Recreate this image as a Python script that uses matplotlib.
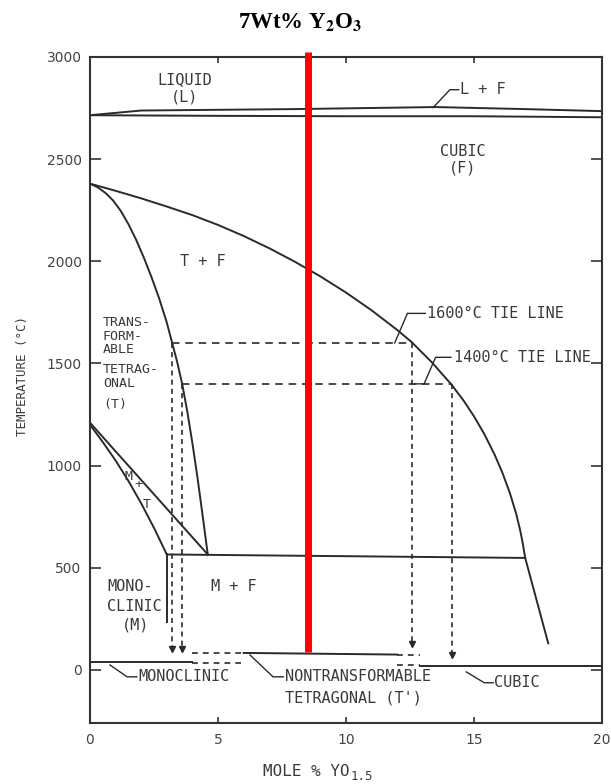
import matplotlib
matplotlib.use("Agg")
import matplotlib.pyplot as plt

plt.rcParams["mathtext.fontset"] = "stix"

# ---- phase boundaries (mole % YO1.5, deg C) --------------------------------
liq_x = [0, 2, 8, 13.5, 17, 20]
liq_T = [2715, 2738, 2745, 2755, 2745, 2735]
sol_x = [0, 5, 10, 15, 20]
sol_T = [2715, 2712, 2710, 2710, 2705]

tet_x = [0, 0.3, 0.6, 0.9, 1.2, 1.5, 1.8, 2.1, 2.4, 2.7, 3.0, 3.2, 3.4, 3.6,
         3.8, 4.0, 4.2, 4.4, 4.6]
tet_T = [2380, 2362, 2335, 2298, 2247, 2182, 2106, 2019, 1923, 1819, 1700, 1605,
         1510, 1400, 1265, 1110, 940, 755, 565]

cub_x = [0, 1, 2, 3, 4, 5, 6, 7, 8, 9, 10, 11, 12, 12.56, 13.35, 14.13, 14.6,
         15.0, 15.4, 15.8, 16.1, 16.4, 16.65, 16.8, 16.9, 17.0, 17.9]
cub_T = [2380, 2345, 2308, 2268, 2226, 2178, 2124, 2064, 1998, 1926, 1847, 1760,
         1664, 1605, 1506, 1395, 1317, 1241, 1155, 1055, 968, 866, 763, 685, 623,
         548, 130]

eut_x = [3.0, 17.0]
eut_T = [565, 548]

mt_lo_x = [0, 0.5, 1.0, 1.5, 2.0, 2.5, 3.0]
mt_lo_T = [1200, 1115, 1025, 925, 815, 695, 565]
mt_hi_x = [0, 4.6]
mt_hi_T = [1210, 565]

mono_x = [3.0, 3.0]
mono_T = [565, 235]

# tie lines and their drops to room temperature
tie_T = [1600, 1400]
tie_x0 = [3.2, 3.6]
tie_x1 = [12.56, 14.13]
drop_x = [3.2, 3.6, 12.56, 14.13]
drop_top = [1600, 1400, 1600, 1400]
drop_bot = [88, 88, 114, 59]

# room-temperature phase bars
bar_solid = [([0, 4.0], [38, 38]), ([6.0, 12.0], [83, 75]), ([12.9, 20], [20, 20])]
bar_dash = [([4.0, 5.9], [85, 85]), ([4.0, 5.9], [34, 34]),
            ([12.0, 12.9], [75, 75]), ([12.0, 12.9], [22, 22])]

comp_x = 8.53          # 7 wt% Y2O3
comp_T = [88, 3025]

ink = "#2a2a2a"
txt = "#3a3a3a"
mono = "DejaVu Sans Mono"

fig = plt.figure(figsize=(6.11, 7.84), dpi=100)
ax = fig.add_axes([90 / 611, 61 / 784, 512 / 611, 666 / 784])
ax.set_xlim(0, 20)
ax.set_ylim(-260, 3000)

lw = 1.4
for xs, ts in [(liq_x, liq_T), (sol_x, sol_T), (tet_x, tet_T), (cub_x, cub_T),
               (eut_x, eut_T), (mt_lo_x, mt_lo_T), (mt_hi_x, mt_hi_T),
               (mono_x, mono_T)]:
    ax.plot(xs, ts, color=ink, lw=lw, solid_joinstyle="round")

for T, x0, x1 in zip(tie_T, tie_x0, tie_x1):
    ax.plot([x0, x1], [T, T], color=ink, lw=1.2, ls=(0, (4.5, 3.5)))
for x, t0, t1 in zip(drop_x, drop_top, drop_bot):
    ax.plot([x, x], [t0, t1], color=ink, lw=1.2, ls=(0, (3, 2.5)))
    ax.plot([x], [t1 + 15], marker="v", ms=4.5, color=ink)

for xs, ts in bar_solid:
    ax.plot(xs, ts, color=ink, lw=lw)
for xs, ts in bar_dash:
    ax.plot(xs, ts, color=ink, lw=1.2, ls=(0, (3.5, 3)))

# leaders
leaders = [
    ([13.4, 14.06, 14.4], [2752, 2840, 2840]),
    ([11.9, 12.4, 13.1], [1600, 1745, 1745]),
    ([12.7, 13.05, 13.5, 14.1], [1400, 1400, 1530, 1530]),
    ([0.78, 1.45, 1.83], [24, -34, -34]),
    ([6.25, 7.15, 7.55], [73, -34, -34]),
    ([14.7, 15.4, 15.75], [-10, -63, -63]),
]
for xs, ts in leaders:
    ax.plot(xs, ts, color=ink, lw=1.0)

kw = dict(family=mono, color=txt, fontsize=11)
sm = dict(family=mono, color=txt, fontsize=9.5)
ax.text(3.7, 2888, "LIQUID", ha="center", va="center", **kw)
ax.text(3.7, 2805, "(L)", ha="center", va="center", **kw)
ax.text(14.45, 2840, "L + F", ha="left", va="center", **kw)
ax.text(14.57, 2536, "CUBIC", ha="center", va="center", **kw)
ax.text(14.57, 2457, "(F)", ha="center", va="center", **kw)
ax.text(4.4, 2000, "T + F", ha="center", va="center", **kw)
ax.text(13.15, 1745, "1600°C TIE LINE", ha="left", va="center", **kw)
ax.text(14.2, 1530, "1400°C TIE LINE", ha="left", va="center", **kw)
for s, T in zip(["TRANS-", "FORM-", "ABLE", "TETRAG-", "ONAL", "(T)"],
                [1698, 1632, 1566, 1470, 1404, 1300]):
    ax.text(0.5, T, s, ha="left", va="center", **sm)
ax.text(1.5, 948, "M", ha="center", va="center", **sm)
ax.text(1.88, 905, "+", ha="center", va="center", **sm)
ax.text(2.23, 808, "T", ha="center", va="center", **sm)
for s, x, T in zip(["MONO-", "CLINIC", "(M)"], [0.66, 0.66, 1.25], [406, 308, 220]):
    ax.text(x, T, s, ha="left", va="center", **kw)
ax.text(5.6, 406, "M + F", ha="center", va="center", **kw)
ax.text(1.9, -34, "MONOCLINIC", ha="left", va="center", **kw)
ax.text(7.6, -34, "NONTRANSFORMABLE", ha="left", va="center", **kw)
ax.text(7.6, -137, "TETRAGONAL (T')", ha="left", va="center", **kw)
ax.text(15.8, -63, "CUBIC", ha="left", va="center", **kw)

ax.plot([comp_x, comp_x], comp_T, color="red", lw=5, clip_on=False,
        solid_capstyle="butt", zorder=5)

# frame and ticks
for sp in ax.spines.values():
    sp.set_color("#333333")
    sp.set_linewidth(1.5)
ax.set_xticks([0, 5, 10, 15, 20])
ax.set_yticks([0, 500, 1000, 1500, 2000, 2500, 3000])
ax.tick_params(axis="y", direction="in", length=8, width=1.2, color="#333333",
               right=True, labelsize=10, labelcolor="#444444", pad=6)
ax.tick_params(axis="x", direction="in", length=4, width=1.2, color="#333333",
               top=True, labelsize=10, labelcolor="#444444", pad=7)

fig.text(23 / 611, 1 - 376 / 784, "TEMPERATURE (°C)", rotation=90, ha="center",
         va="center", family=mono, fontsize=9, color=txt)
fig.text(263 / 611, 1 - 772 / 784, "MOLE % YO", ha="left", va="center",
         family=mono, fontsize=11.5, color=txt)
fig.text(351 / 611, 1 - 777 / 784, "1.5", ha="left", va="center",
         family=mono, fontsize=9, color=txt)

fig.text(300 / 611, 1 - 22 / 784, r"7Wt% Y$_\mathbf{2}$O$_\mathbf{3}$",
         ha="center", va="center", family="Liberation Serif", weight="bold",
         fontsize=16.5)

fig.savefig("out.png", dpi=100)
